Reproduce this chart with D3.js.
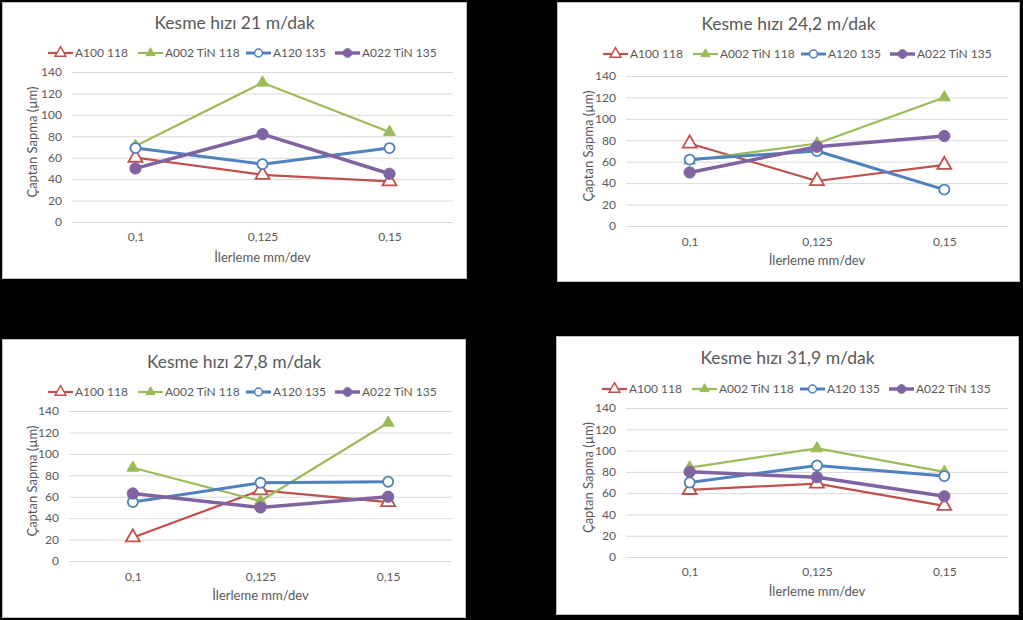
<!DOCTYPE html>
<html><head><meta charset="utf-8">
<script src="https://cdn.jsdelivr.net/npm/d3@7"></script>
<style>
html,body{margin:0;padding:0;background:#000;}
svg{display:block;}
text{font-family:Lato,"Noto Sans",sans-serif;fill:#595959;}
</style></head>
<body>
<svg id="chart" width="1023" height="620"></svg>
<script>
// ---- data ----
const categories = ["0,1", "0,125", "0,15"];
const panelTitles = ["Kesme hızı 21 m/dak", "Kesme hızı 24,2 m/dak", "Kesme hızı 27,8 m/dak", "Kesme hızı 31,9 m/dak"];
const seriesNames = ["A100 118", "A002 TiN 118", "A120 135", "A022 TiN 135"];
const yTicks = [0, 20, 40, 60, 80, 100, 120, 140];
const xTitle = "İlerleme mm/dev";
const yTitle = "Çaptan Sapma (µm)";
// values per panel (21, 24.2, 27.8, 31.9 m/dak), each [0.1, 0.125, 0.15]
const a100_118    = [[60, 44, 38], [77, 42, 57], [22, 66, 55], [63, 69, 48]];
const a002TiN_118 = [[71, 130, 84], [61, 77, 120], [87, 56, 129], [84, 102, 80]];
const a120_135    = [[69, 54, 69], [62, 70, 34], [55, 73, 74], [70, 86, 76]];
const a022TiN_135 = [[50, 82, 45], [50, 74, 84], [63, 50, 60], [80, 75, 57]];
const seriesData = [a100_118, a002TiN_118, a120_135, a022TiN_135];

// ---- styles ----
const styles = [
  {color: "#C0504D", width: 2.2, marker: "triangle", open: true,  size: 85},
  {color: "#9BBB59", width: 2.2, marker: "triangle", open: false, size: 60},
  {color: "#4F81BD", width: 3,   marker: "circle",   open: true,  size: 80},
  {color: "#8064A2", width: 3.5, marker: "circle",   open: false, size: 100}
];

// ---- layout ----
const layout = [
  {px: 2,   py: 2,   pw: 465, ph: 277, l: 72,  r: 453,  t: 72,  b: 222, ty: 23,  ly: 53,  xty: 237, xtt: 257, ytx: 32},
  {px: 557, py: 2,   pw: 463, ph: 280, l: 626, r: 1008, t: 76,  b: 226, ty: 24,  ly: 54,  xty: 242, xtt: 260, ytx: 588},
  {px: 2,   py: 339, pw: 464, ph: 279, l: 69,  r: 452,  t: 411, b: 561, ty: 362, ly: 392, xty: 577, xtt: 595, ytx: 32},
  {px: 556, py: 336, pw: 463, ph: 279, l: 626, r: 1008, t: 408, b: 557, ty: 358, ly: 389, xty: 572, xtt: 591, ytx: 588}
];
const legendOffsets = [46, 136, 244, 333];

const svg = d3.select("#chart");
svg.append("rect").attr("width", 1023).attr("height", 620).attr("fill", "#000");

function markerPath(st, k) {
  const t = st.marker === "triangle" ? d3.symbolTriangle : d3.symbolCircle;
  return d3.symbol().type(t).size(st.size * k)();
}

layout.forEach((L, pi) => {
  const g = svg.append("g");
  g.append("rect").attr("x", L.px + 0.5).attr("y", L.py + 0.5)
    .attr("width", L.pw - 1).attr("height", L.ph - 1)
    .attr("fill", "#fff").attr("stroke", "#bfbfbf").attr("stroke-width", 1);

  const x = d3.scalePoint().domain(categories).range([L.l, L.r]).padding(0.5);
  const y = d3.scaleLinear().domain([0, 140]).range([L.b, L.t]);

  // grid + y axis
  const yAxis = d3.axisLeft(y).tickValues(yTicks).tickSize(-(L.r - L.l)).tickPadding(10).tickFormat(d3.format("d"));
  const ya = g.append("g").attr("transform", `translate(${L.l},0)`).call(yAxis);
  ya.select(".domain").remove();
  ya.selectAll(".tick line").attr("stroke", "#d9d9d9").attr("stroke-width", 1);
  ya.selectAll(".tick text").attr("font-size", 12).attr("fill", "#595959")
    .style("font-family", "Lato, 'Noto Sans', sans-serif");

  const xAxis = d3.axisBottom(x).tickSize(0).tickPadding(0);
  const xa = g.append("g").attr("transform", `translate(0,${L.xty})`).call(xAxis);
  xa.select(".domain").remove();
  xa.selectAll(".tick text").attr("font-size", 12).attr("fill", "#595959").attr("dy", "0.35em")
    .style("font-family", "Lato, 'Noto Sans', sans-serif");

  // titles
  g.append("text").attr("x", L.px + L.pw / 2).attr("y", L.ty).attr("dy", "0.35em")
    .attr("text-anchor", "middle").attr("font-size", 17.5).text(panelTitles[pi]);
  g.append("text").attr("x", (L.l + L.r) / 2).attr("y", L.xtt).attr("dy", "0.35em")
    .attr("text-anchor", "middle").attr("font-size", 13).text(xTitle);
  g.append("text").attr("transform", `translate(${L.ytx},${(L.t + L.b) / 2 - 5}) rotate(-90)`)
    .attr("dy", "0.35em").attr("text-anchor", "middle").attr("font-size", 13).text(yTitle);

  // series
  const line = d3.line().x((d, i) => x(categories[i])).y(d => y(d));
  seriesData.forEach((sd, si) => {
    const st = styles[si];
    const vals = sd[pi];
    g.append("path").datum(vals).attr("d", line).attr("fill", "none")
      .attr("stroke", st.color).attr("stroke-width", st.width).attr("stroke-linejoin", "round");
    g.selectAll(null).data(vals).enter().append("path")
      .attr("d", markerPath(st, 1))
      .attr("transform", (d, i) => `translate(${x(categories[i])},${y(d)})`)
      .attr("fill", st.open ? "#fff" : st.color)
      .attr("stroke", st.color).attr("stroke-width", st.open ? 1.8 : 1);
  });

  // legend
  seriesNames.forEach((name, si) => {
    const st = styles[si];
    const lx = L.px + legendOffsets[si];
    const lg = g.append("g").attr("transform", `translate(${lx},${L.ly})`);
    lg.append("line").attr("x1", 0).attr("x2", 25).attr("y1", 0).attr("y2", 0)
      .attr("stroke", st.color).attr("stroke-width", st.width);
    lg.append("path").attr("d", markerPath(st, 0.6))
      .attr("transform", "translate(12.5,0)")
      .attr("fill", st.open ? "#fff" : st.color).attr("stroke", st.color).attr("stroke-width", st.open ? 1.5 : 1);
    lg.append("text").attr("x", 27).attr("y", 0).attr("dy", "0.35em").attr("font-size", 12).text(name);
  });
});
</script>
</body></html>
